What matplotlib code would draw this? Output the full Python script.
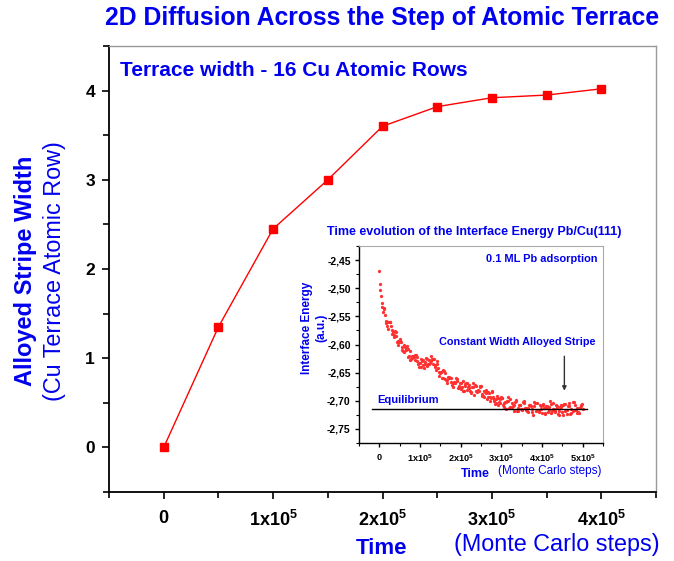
import matplotlib
matplotlib.use("Agg")
import matplotlib.pyplot as plt
from matplotlib.ticker import MultipleLocator, FuncFormatter
import numpy as np

plt.rcParams['font.family'] = ['Liberation Sans', 'DejaVu Sans']
plt.rcParams['mathtext.fontset'] = 'custom'
plt.rcParams['mathtext.rm'] = 'Liberation Sans'
plt.rcParams['mathtext.bf'] = 'Liberation Sans:bold'

BLUE = '#0000EE'
W, H = 674, 561

# main curve: alloyed stripe width vs Monte Carlo time
mc_time = [0, 0.5e5, 1.0e5, 1.5e5, 2.0e5, 2.5e5, 3.0e5, 3.5e5, 4.0e5]
stripe_width = [0.0, 1.35, 2.45, 3.0, 3.6, 3.82, 3.92, 3.95, 4.02]
x_tick_vals = [0, 1e5, 2e5, 3e5, 4e5]
x_tick_labels = ['0', r'$\mathbf{1x10^5}$', r'$\mathbf{2x10^5}$', r'$\mathbf{3x10^5}$', r'$\mathbf{4x10^5}$']

# inset: interface energy samples (milli a.u.), three interleaved sample passes
inset_steps_a = np.arange(0, 501, 5) * 1e3
inset_energy_a = [
    -2470, -2514, -2543, -2548, -2568, -2560, -2575, -2586, -2578, -2594,
    -2594, -2609, -2601, -2610, -2623, -2611, -2624, -2622, -2618, -2635,
    -2633, -2629, -2642, -2624, -2634, -2633, -2626, -2625, -2646, -2641,
    -2650, -2659, -2647, -2663, -2657, -2666, -2675, -2667, -2664, -2674,
    -2679, -2665, -2674, -2680, -2672, -2687, -2676, -2672, -2684, -2682,
    -2674, -2691, -2684, -2697, -2686, -2695, -2694, -2706, -2692, -2703,
    -2693, -2707, -2703, -2700, -2712, -2704, -2718, -2699, -2713, -2707,
    -2716, -2704, -2712, -2720, -2707, -2714, -2703, -2718, -2716, -2707,
    -2722, -2712, -2709, -2720, -2701, -2718, -2714, -2707, -2724, -2711,
    -2720, -2706, -2716, -2709, -2723, -2703, -2717, -2712, -2721, -2708,
    -2715]
inset_steps_b = np.arange(2.5, 500, 5) * 1e3
inset_energy_b = [
    -2503, -2533, -2537, -2558, -2573, -2567, -2578, -2576, -2596, -2596,
    -2595, -2612, -2605, -2603, -2620, -2626, -2621, -2619, -2630, -2640,
    -2625, -2637, -2631, -2639, -2628, -2620, -2635, -2636, -2635, -2656,
    -2648, -2645, -2662, -2663, -2658, -2672, -2667, -2660, -2677, -2668,
    -2676, -2682, -2668, -2675, -2682, -2675, -2690, -2674, -2683, -2674,
    -2688, -2693, -2686, -2685, -2701, -2684, -2697, -2704, -2695, -2704,
    -2695, -2711, -2703, -2694, -2711, -2709, -2702, -2719, -2707, -2714,
    -2703, -2712, -2719, -2707, -2710, -2725, -2704, -2716, -2719, -2709,
    -2706, -2722, -2713, -2711, -2722, -2704, -2719, -2713, -2718, -2708,
    -2725, -2706, -2716, -2710, -2721, -2702, -2717, -2720, -2712, -2705]
inset_steps_c = np.arange(1.5, 500, 5) * 1e3
inset_energy_c = [
    -2492, -2527, -2535, -2561, -2560, -2560, -2581, -2584, -2585, -2600,
    -2590, -2605, -2613, -2608, -2608, -2628, -2620, -2628, -2622, -2632,
    -2640, -2628, -2635, -2625, -2635, -2630, -2626, -2640, -2630, -2649,
    -2649, -2660, -2650, -2669, -2660, -2659, -2669, -2669, -2662, -2677,
    -2668, -2683, -2671, -2669, -2678, -2684, -2669, -2683, -2680, -2676,
    -2691, -2683, -2680, -2694, -2694, -2683, -2701, -2696, -2707, -2696,
    -2695, -2704, -2714, -2701, -2697, -2711, -2707, -2701, -2718, -2708,
    -2714, -2700, -2717, -2713, -2707, -2720, -2710, -2704, -2720, -2715,
    -2707, -2723, -2709, -2717, -2706, -2714, -2720, -2709, -2726, -2711,
    -2707, -2718, -2723, -2704, -2715, -2719, -2708, -2722, -2712, -2710]
equilibrium_energy = -2.715


def fx(px):
    return px / W


def fy(py):
    return 1 - py / H


fig = plt.figure(figsize=(6.74, 5.61), dpi=100)

# ---- main axes
ax = fig.add_axes([fx(109), fy(492), fx(656) - fx(109), fy(46) - fy(492)])
ax.plot(mc_time, stripe_width, color='#FF0000', lw=1.0, marker='s', ms=6,
        markeredgecolor='#FF0000', markerfacecolor='#FF0000')
ax.set_xlim(-0.5e5, 4.5e5)
ax.set_ylim(-0.5, 4.5)
ax.set_xticks(x_tick_vals)
ax.set_xticklabels(x_tick_labels)
ax.xaxis.set_minor_locator(MultipleLocator(0.5e5))
ax.set_yticks([0, 1, 2, 3, 4])
ax.yaxis.set_minor_locator(MultipleLocator(0.5))
ax.tick_params(which='major', direction='out', length=5, width=1.2, labelsize=13, pad=8)
ax.tick_params(which='minor', direction='out', length=4, width=1.2)
ax.tick_params(axis='y', labelsize=12.5, pad=5)
for lab in ax.get_xticklabels() + ax.get_yticklabels():
    lab.set_fontweight('bold')
for s in ['left', 'bottom']:
    ax.spines[s].set_linewidth(1.3)
for s in ['top', 'right']:
    ax.spines[s].set_color('#999999')
    ax.spines[s].set_linewidth(1.0)

fig.text(fx(382), fy(18), '2D Diffusion Across the Step of Atomic Terrace',
         ha='center', va='center', color=BLUE, fontsize=17.8, fontweight='bold')
fig.text(fx(120), fy(70), 'Terrace width - 16 Cu Atomic Rows',
         ha='left', va='center', color=BLUE, fontsize=15, fontweight='bold')
fig.text(fx(26), fy(271), 'Alloyed Stripe Width', rotation=90,
         ha='center', va='center', color=BLUE, fontsize=17, fontweight='bold')
fig.text(fx(55), fy(271), '(Cu Terrace Atomic Row)', rotation=90,
         ha='center', va='center', color=BLUE, fontsize=16.8)
fig.text(fx(382), fy(548), 'Time', ha='center', va='center',
         color=BLUE, fontsize=16, fontweight='bold')
fig.text(fx(557), fy(544), '(Monte Carlo steps)', ha='center', va='center',
         color=BLUE, fontsize=16.8)

# ---- inset
ax_in = fig.add_axes([fx(359), fy(443), fx(603) - fx(359), fy(246) - fy(443)])
for steps, energy in [(inset_steps_a, inset_energy_a),
                      (inset_steps_b, inset_energy_b),
                      (inset_steps_c, inset_energy_c)]:
    ax_in.scatter(steps, np.array(energy) / 1000, s=5.5, color='#FF3030',
                  linewidths=0, zorder=3)
ax_in.plot([-0.18e5, 5.1e5], [equilibrium_energy, equilibrium_energy],
           color='black', lw=1.0, zorder=4)
ax_in.annotate('', xy=(4.55e5, -2.687), xytext=(4.55e5, -2.616),
               arrowprops=dict(arrowstyle='-|>', color='#333333', lw=1.0,
                               mutation_scale=6))
ax_in.set_xlim(-0.5e5, 5.5e5)
ax_in.set_ylim(-2.775, -2.425)
ax_in.set_xticks([0, 1e5, 2e5, 3e5, 4e5, 5e5])
ax_in.set_xticklabels(['0', r'$\mathbf{1x10^5}$', r'$\mathbf{2x10^5}$', r'$\mathbf{3x10^5}$',
                       r'$\mathbf{4x10^5}$', r'$\mathbf{5x10^5}$'])
ax_in.xaxis.set_minor_locator(MultipleLocator(0.5e5))
ax_in.set_yticks([-2.75, -2.70, -2.65, -2.60, -2.55, -2.50, -2.45])
ax_in.yaxis.set_major_formatter(FuncFormatter(lambda v, p: f'{v:.2f}'.replace('.', ',')))
ax_in.yaxis.set_minor_locator(MultipleLocator(0.025))
ax_in.tick_params(which='major', direction='out', length=3, width=1.0, labelsize=7.5, pad=3)
ax_in.tick_params(which='minor', direction='out', length=2, width=0.8)
ax_in.tick_params(axis='x', labelsize=6.6, pad=4)
for lab in ax_in.get_xticklabels() + ax_in.get_yticklabels():
    lab.set_fontweight('bold')
for s in ['left', 'bottom']:
    ax_in.spines[s].set_linewidth(1.0)
for s in ['top', 'right']:
    ax_in.spines[s].set_color('#AAAAAA')
    ax_in.spines[s].set_linewidth(0.8)

fig.text(fx(474), fy(232), 'Time evolution of the Interface Energy Pb/Cu(111)',
         ha='center', va='center', color=BLUE, fontsize=9, fontweight='bold')
fig.text(fx(542), fy(259), '0.1 ML Pb adsorption', ha='center', va='center',
         color=BLUE, fontsize=7.9, fontweight='bold')
fig.text(fx(517), fy(342), 'Constant Width Alloyed Stripe', ha='center', va='center',
         color=BLUE, fontsize=7.8, fontweight='bold')
fig.text(fx(377), fy(400), 'Equilibrium', ha='left', va='center',
         color=BLUE, fontsize=8, fontweight='bold')
fig.text(fx(307), fy(328), 'Interface Energy', rotation=90, ha='center', va='center',
         color=BLUE, fontsize=8.5, fontweight='bold')
fig.text(fx(321), fy(328), '(a.u.)', rotation=90, ha='center', va='center',
         color=BLUE, fontsize=8.5, fontweight='bold')
fig.text(fx(475), fy(474), 'Time', ha='center', va='center',
         color=BLUE, fontsize=9, fontweight='bold')
fig.text(fx(550), fy(471), '(Monte Carlo steps)', ha='center', va='center',
         color=BLUE, fontsize=8.5)

fig.savefig('out.png', dpi=100)
